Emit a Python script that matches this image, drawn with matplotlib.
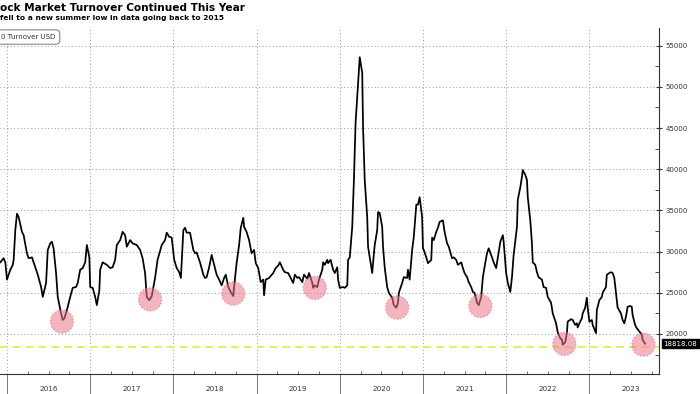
import matplotlib.pyplot as plt
from matplotlib.transforms import blended_transform_factory

# 20-day average turnover (decimal years, USD)
dates = [
    2015.92, 2015.96, 2015.98, 2016.00, 2016.04, 2016.07, 2016.08, 2016.10, 2016.12, 2016.14,
    2016.18, 2016.20, 2016.24, 2016.26, 2016.30, 2016.31, 2016.35, 2016.37, 2016.41, 2016.43,
    2016.47, 2016.49, 2016.52, 2016.54, 2016.56, 2016.59, 2016.61, 2016.65, 2016.67, 2016.69,
    2016.72, 2016.76, 2016.79, 2016.83, 2016.85, 2016.88, 2016.91, 2016.94, 2016.96, 2016.99,
    2017.00, 2017.03, 2017.06, 2017.08, 2017.11, 2017.12, 2017.15, 2017.20, 2017.24, 2017.27,
    2017.30, 2017.32, 2017.36, 2017.39, 2017.42, 2017.44, 2017.48, 2017.51, 2017.56, 2017.60,
    2017.63, 2017.66, 2017.68, 2017.71, 2017.74, 2017.78, 2017.81, 2017.86, 2017.90, 2017.92,
    2017.95, 2017.98, 2018.01, 2018.04, 2018.07, 2018.09, 2018.12, 2018.14, 2018.16, 2018.20,
    2018.24, 2018.26, 2018.28, 2018.32, 2018.36, 2018.38, 2018.40, 2018.43, 2018.46, 2018.49,
    2018.52, 2018.55, 2018.58, 2018.61, 2018.63, 2018.66, 2018.69, 2018.72, 2018.73, 2018.76,
    2018.79, 2018.81, 2018.84, 2018.85, 2018.88, 2018.91, 2018.94, 2018.97, 2018.99, 2019.02,
    2019.05, 2019.08, 2019.09, 2019.11, 2019.15, 2019.20, 2019.23, 2019.26, 2019.28, 2019.32,
    2019.34, 2019.38, 2019.41, 2019.44, 2019.46, 2019.49, 2019.51, 2019.55, 2019.57, 2019.61,
    2019.63, 2019.67, 2019.68, 2019.70, 2019.73, 2019.75, 2019.79, 2019.80, 2019.82, 2019.85,
    2019.86, 2019.89, 2019.92, 2019.94, 2019.97, 2019.98, 2020.00, 2020.04, 2020.06, 2020.09,
    2020.10, 2020.12, 2020.15, 2020.17, 2020.19, 2020.22, 2020.24, 2020.27, 2020.28, 2020.30,
    2020.33, 2020.34, 2020.36, 2020.39, 2020.40, 2020.42, 2020.45, 2020.46, 2020.48, 2020.51,
    2020.52, 2020.54, 2020.57, 2020.59, 2020.63, 2020.65, 2020.68, 2020.70, 2020.71, 2020.75,
    2020.77, 2020.81, 2020.82, 2020.84, 2020.87, 2020.89, 2020.92, 2020.94, 2020.96, 2020.99,
    2021.00, 2021.01, 2021.04, 2021.06, 2021.10, 2021.11, 2021.13, 2021.16, 2021.18, 2021.20,
    2021.24, 2021.26, 2021.29, 2021.31, 2021.35, 2021.37, 2021.40, 2021.42, 2021.46, 2021.48,
    2021.50, 2021.53, 2021.55, 2021.58, 2021.60, 2021.62, 2021.65, 2021.67, 2021.70, 2021.72,
    2021.75, 2021.77, 2021.79, 2021.83, 2021.85, 2021.88, 2021.90, 2021.93, 2021.96, 2021.97,
    2022.00, 2022.02, 2022.05, 2022.07, 2022.09, 2022.13, 2022.14, 2022.17, 2022.19, 2022.20,
    2022.23, 2022.25, 2022.26, 2022.29, 2022.31, 2022.32, 2022.35, 2022.37, 2022.39, 2022.43,
    2022.45, 2022.48, 2022.50, 2022.54, 2022.56, 2022.60, 2022.62, 2022.65, 2022.67, 2022.68,
    2022.71, 2022.73, 2022.74, 2022.78, 2022.80, 2022.83, 2022.85, 2022.86, 2022.89, 2022.91,
    2022.92, 2022.95, 2022.97, 2022.98, 2023.00, 2023.03, 2023.04, 2023.08, 2023.09, 2023.12,
    2023.15, 2023.16, 2023.20, 2023.21, 2023.24, 2023.26, 2023.28, 2023.30, 2023.32, 2023.34,
    2023.38, 2023.40, 2023.42, 2023.44, 2023.46, 2023.49, 2023.51, 2023.52, 2023.55, 2023.57,
    2023.61, 2023.63, 2023.64, 2023.67,
]
turnover = [
    28700, 29200, 28700, 26600, 27800, 28400, 29000, 32600, 34600, 34200,
    32400, 32000, 29800, 29200, 29300, 29000, 27800, 27200, 25700, 24500,
    26200, 30200, 31000, 31200, 30400, 27400, 24500, 22500, 21700, 21900,
    22900, 24500, 25600, 25700, 26200, 27800, 28000, 28700, 30800, 29300,
    25700, 25600, 24500, 23500, 25300, 27800, 28700, 28400, 28000, 28100,
    29000, 30800, 31400, 32400, 32000, 30600, 31400, 31000, 30800, 30200,
    29200, 27400, 24500, 24100, 24600, 26800, 29000, 30800, 31400, 32300,
    31800, 31700, 29000, 28000, 27500, 26800, 32600, 32900, 32300, 32300,
    30200, 29800, 29900, 28700, 27200, 26800, 26900, 28100, 29600, 28400,
    27200, 26600, 25900, 26800, 27200, 25700, 25100, 24600, 25700, 28600,
    30800, 32900, 34100, 33000, 32400, 31400, 29800, 30200, 28600, 28000,
    26300, 26600, 24700, 26600, 26800, 27400, 28000, 28300, 28700, 27800,
    27500, 27400, 26800, 26200, 27200, 26800, 26900, 26300, 27200, 26700,
    27400, 26200, 25600, 25900, 25700, 26600, 27800, 28700, 28400, 29000,
    28600, 29000, 27800, 27400, 28100, 26600, 25600, 25700, 25600, 25900,
    29000, 29300, 33000, 38700, 45600, 50500, 53600, 51700, 45100, 38700,
    34200, 30600, 29300, 27400, 28600, 30800, 32600, 34800, 34700, 33000,
    30600, 28100, 25700, 25000, 24400, 23500, 23200, 23800, 25000, 26200,
    26900, 26800, 27800, 26600, 30200, 31800, 35700, 35700, 36600, 34200,
    30400, 30200, 29300, 28600, 29000, 31700, 31400, 32400, 32900, 33600,
    33800, 32400, 31000, 30600, 29200, 29300, 29000, 28400, 28700, 28000,
    27400, 26900, 26300, 25700, 25100, 25000, 23800, 23500, 24500, 26900,
    28700, 29800, 30400, 29300, 28700, 28000, 29300, 31200, 32000, 31200,
    27400, 26200, 25100, 26900, 29600, 33000, 36300, 37800, 39100, 39900,
    39300, 38700, 36600, 33800, 31000, 28700, 28400, 27500, 26900, 26600,
    25700, 25600, 24500, 23800, 22500, 21300, 20200, 19500, 19300, 18700,
    19000, 20100, 21500, 21800, 21700, 21100, 21300, 20800, 21500, 21900,
    22500, 23200, 24400, 23200, 21500, 21700, 21100, 20100, 22900, 24100,
    24500, 25000, 25700, 27200, 27400, 27500, 27400, 26800, 25000, 23200,
    22500, 21700, 21300, 22100, 23300, 23400, 23300, 22300, 21100, 20700,
    20200, 19900, 19300, 18818.08,
]

# summer lows that are circled
low_dates = [2016.66, 2017.72, 2018.72, 2019.70, 2020.69, 2021.69, 2022.70, 2023.65]
low_values = [21500, 24200, 24900, 25600, 23200, 23400, 18800, 18700]

years = [2016, 2017, 2018, 2019, 2020, 2021, 2022, 2023]
y_ticks = [20000, 25000, 30000, 35000, 40000, 45000, 50000, 55000]
last_value = 18818.08
summer_low_level = 18450

fig = plt.figure(figsize=(7, 3.94), dpi=100)
ax = fig.add_axes([0.0, 0.0508, 0.9414, 0.8782])

ax.plot(dates, turnover, color='black', linewidth=1.25, zorder=3)
ax.axhline(summer_low_level, color='#ecec5a', linewidth=1.4,
           linestyle=(0, (4, 2.6)), zorder=2)
ax.scatter(low_dates, low_values, s=280, color='#ed788c', alpha=0.55,
           edgecolors='#d9587a', linewidths=0.9, linestyle=':', zorder=4)

ax.set_xlim(2015.916, 2023.837)
ax.set_ylim(15144, 57150)

# y axis on the right
ax.yaxis.tick_right()
ax.set_yticks(y_ticks)
ax.set_yticklabels([str(v) for v in y_ticks])
ax.set_yticks([v + 2500 for v in y_ticks[:-1]] + [17500], minor=True)
ax.tick_params(axis='y', which='major', direction='inout', length=5, width=0.8,
               colors='#333333', labelsize=5, pad=2)
ax.tick_params(axis='y', which='minor', direction='in', length=3, width=0.6,
               colors='#333333')

# x axis: year separators, quarter ticks, year labels centred in each year
ax.set_xticks(years)
ax.set_xticklabels([])
ax.set_xticks([y + q for y in years for q in (0.25, 0.5, 0.75)], minor=True)
ax.tick_params(axis='x', which='major', direction='out', length=15, width=0.7,
               colors='#777777')
ax.tick_params(axis='x', which='minor', direction='in', length=2.5, width=0.6,
               colors='#555555')
trans = blended_transform_factory(ax.transData, ax.transAxes)
for y in years:
    ax.text(y + 0.5, -0.042, str(y), transform=trans, ha='center', va='center',
            fontsize=5.2, color='#333333', clip_on=False)

ax.grid(True, which='major', color='#9a9a9a', linewidth=0.7,
        linestyle=(0, (1, 2.5)), zorder=0)

for side in ('left', 'top'):
    ax.spines[side].set_visible(False)
ax.spines['right'].set_color('#333333')
ax.spines['bottom'].set_color('#333333')
ax.spines['right'].set_linewidth(0.8)
ax.spines['bottom'].set_linewidth(0.8)

# last value tag
ytrans = blended_transform_factory(ax.transAxes, ax.transData)
ax.text(1.007, last_value, f'{last_value:.2f}', transform=ytrans, ha='left',
        va='center', fontsize=5, color='white', clip_on=False,
        bbox=dict(boxstyle='square,pad=0.2', facecolor='black', edgecolor='black'))

# headline, subtitle and series tag (cropped on the left as in the source)
fig.text(0.0, 0.992, 'ock Market Turnover Continued This Year', ha='left', va='top',
         fontsize=7.6, fontweight='bold', color='black')
fig.text(0.0, 0.963, 'fell to a new summer low in data going back to 2015', ha='left',
         va='top', fontsize=5.4, fontweight='bold', color='black')
fig.text(0.002, 0.906, '0 Turnover USD', ha='left', va='center', fontsize=5,
         color='#333333',
         bbox=dict(boxstyle='round,pad=0.6', facecolor='white', edgecolor='#777777',
                   linewidth=0.7))

fig.savefig('out.png', dpi=100)
